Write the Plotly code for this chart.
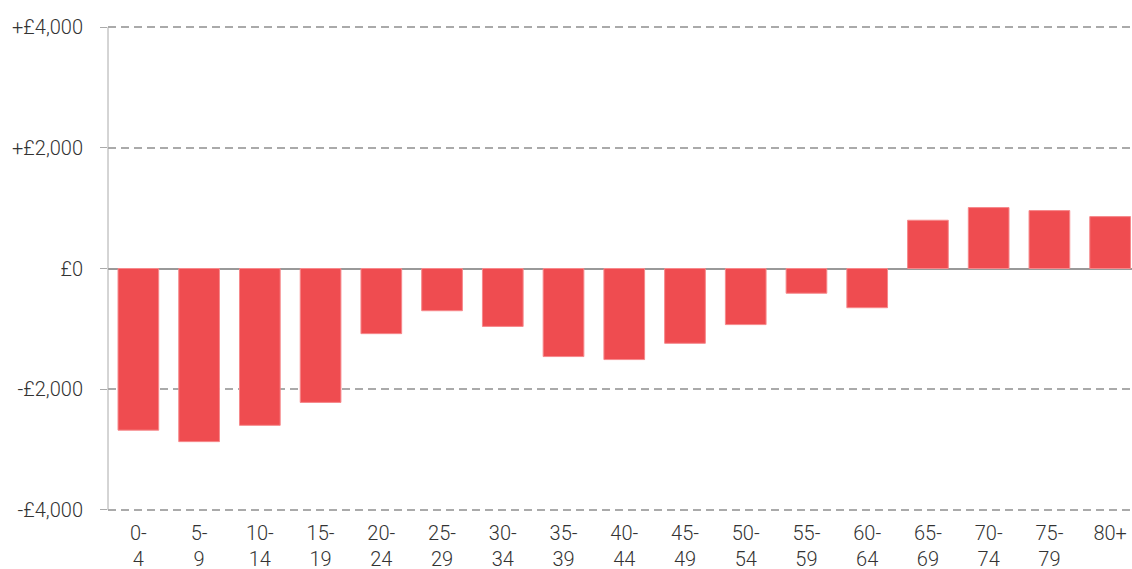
import plotly.graph_objects as go

categories = ["0-<br>4", "5-<br>9", "10-<br>14", "15-<br>19", "20-<br>24", "25-<br>29",
              "30-<br>34", "35-<br>39", "40-<br>44", "45-<br>49", "50-<br>54", "55-<br>59",
              "60-<br>64", "65-<br>69", "70-<br>74", "75-<br>79", "80+"]
values = [-2680, -2870, -2600, -2220, -1080, -700, -960, -1460, -1510, -1240,
          -930, -410, -650, 800, 1010, 960, 860]
tick_vals = [-4000, -2000, 0, 2000, 4000]
tick_text = ["-£4,000", "-£2,000", "£0", "+£2,000", "+£4,000"]

fig = go.Figure(go.Bar(
    x=list(range(len(categories))), y=values,
    marker=dict(color="#ef4c50", line=dict(color="#f6888b", width=1)),
    width=0.67,
))

font = dict(family="Roboto, sans-serif", size=20, color="#333333", weight=300)

fig.update_layout(
    width=1132, height=569,
    margin=dict(l=108, r=0, t=26, b=58),
    paper_bgcolor="white", plot_bgcolor="white",
    font=font,
    showlegend=False,
)
fig.update_xaxes(
    tickmode="array", tickvals=list(range(len(categories))), ticktext=categories,
    range=[-0.5, 16.36], showgrid=False, showline=False, ticks="",
    tickfont=font, ticklabelstandoff=8, automargin=False,
)
fig.update_yaxes(
    range=[-4020, 4020], tickmode="array", tickvals=tick_vals, ticktext=tick_text,
    showgrid=True, gridcolor="#aaaaaa", gridwidth=1.5, griddash="8px,5px",
    zeroline=True, zerolinecolor="#999999", zerolinewidth=1.5,
    showline=False, ticks="outside", ticklen=7, tickcolor="#aaaaaa",
    tickfont=font, ticklabelstandoff=13, automargin=False,
)
# y-axis line spanning the tick range
fig.add_shape(type="line", xref="paper", yref="y", x0=0, x1=0,
              y0=tick_vals[0], y1=tick_vals[-1],
              line=dict(color="#aaaaaa", width=1))

fig.write_html("out.html", config={"displayModeBar": False},
               post_script="document.body.style.margin='0';")
